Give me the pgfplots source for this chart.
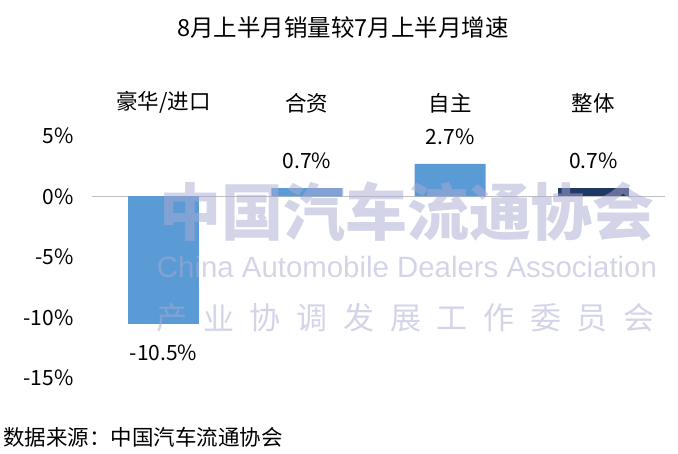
\documentclass[border=0pt]{standalone}
\usepackage{pgfplots}
\pgfplotsset{compat=1.18}
\usepackage{fontspec}
\setmainfont{Noto Sans CJK SC}
\newfontfamily\wmlatin{Liberation Sans}
\definecolor{barblue}{RGB}{91,155,213}
\definecolor{barnavy}{RGB}{32,56,100}
\definecolor{wm}{RGB}{170,170,212}
\begin{document}
\begin{tikzpicture}[x=1pt,y=1pt]
\useasboundingbox (0,0) rectangle (678,454);
\begin{axis}[
  at={(92pt,76pt)}, anchor=south west,
  scale only axis, width=573pt, height=242pt,
  xmin=-0.5, xmax=3.5, ymin=-15, ymax=5,
  axis line style={draw=none},
  tick style={draw=none},
  xtick={0,1,2,3},
  xticklabels={豪华/进口,合资,自主,整体},
  xticklabel pos=upper,
  xticklabel style={font=\fontsize{21.5pt}{25pt}\selectfont, yshift=15pt},
  ytick={-15,-10,-5,0,5},
  yticklabel={\pgfmathprintnumber{\tick}\%},
  yticklabel style={font=\fontsize{21pt}{25pt}\selectfont, xshift=-15pt},
  /pgf/number format/assume math mode=true,
  ybar, bar width=71pt, bar shift=0pt,
  nodes near coords={\pgfmathprintnumber[fixed,fixed zerofill,precision=1,assume math mode=true]{\pgfplotspointmeta}\%},
  nodes near coords style={font=\fontsize{21pt}{25pt}\selectfont, black},
  clip=false,
]
\draw[color={rgb,255:red,191;green,191;blue,191}, line width=1.2pt] (axis cs:-0.5,0) -- (axis cs:3.5,0);
\addplot[fill=barblue, draw=none, every node near coord/.append style={yshift=-18pt}] coordinates {(0,-10.5)};
\addplot[fill=barblue, draw=none, every node near coord/.append style={yshift=16pt}] coordinates {(1,0.7) (2,2.7)};
\addplot[fill=barnavy, draw=none, every node near coord/.append style={yshift=16pt}] coordinates {(3,0.7)};
\end{axis}
% watermark
\begin{scope}[opacity=0.5]
\node[wm, font=\fontsize{62pt}{64pt}\selectfont\bfseries, inner sep=0] at (407,454-212) {中国汽车流通协会};
\node[wm, font=\fontsize{29.4pt}{31pt}\wmlatin, inner sep=0] at (407,454-267) {China Automobile Dealers Association};
\foreach \c [count=\i from 0] in {产,业,协,调,发,展,工,作,委,员,会}
  \node[wm, font=\fontsize{31pt}{33pt}\selectfont, inner sep=0] at (172+46.7*\i,454-318) {\c};
\end{scope}
\node[font=\fontsize{23.5pt}{27pt}\selectfont, inner sep=0] at (343,454-28) {8月上半月销量较7月上半月增速};
\node[font=\fontsize{21.5pt}{25pt}\selectfont, anchor=west, inner sep=0] at (3,454-437) {数据来源：中国汽车流通协会};
\end{tikzpicture}
\end{document}
